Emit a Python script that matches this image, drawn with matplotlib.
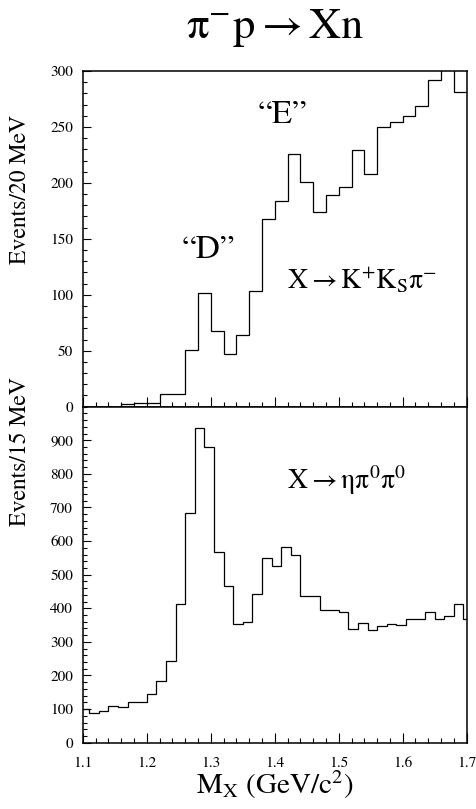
import numpy as np
import matplotlib
matplotlib.use("Agg")
import matplotlib.pyplot as plt
from matplotlib.ticker import MultipleLocator

plt.rcParams['font.family'] = ['STIXGeneral', 'DejaVu Sans']
plt.rcParams['mathtext.fontset'] = 'stix'
plt.rcParams['mathtext.default'] = 'rm'

# X -> K+ Ks pi-, 20 MeV bins starting at 1.10
kkpi_left_edge = 1.10
kkpi_bin_width = 0.020
kkpi_counts = [0, 0, 0, 2, 3, 3, 11, 11, 51, 102,
               68, 47, 64, 103, 168, 184, 226, 201, 174, 189,
               196, 229, 208, 250, 254, 260, 269, 292, 315, 281]

# X -> eta pi0 pi0, 15 MeV bins starting at 1.095
etapipi_left_edge = 1.095
etapipi_bin_width = 0.015
etapipi_counts = [101, 88, 93, 108, 106, 120, 120, 144, 183, 243,
                  413, 683, 937, 879, 567, 467, 352, 358, 443, 550,
                  527, 582, 558, 438, 438, 395, 395, 389, 338, 356,
                  335, 346, 352, 349, 367, 367, 388, 367, 378, 412,
                  367]

x_ticks = [1.1, 1.2, 1.3, 1.4, 1.5, 1.6, 1.7]
x_tick_labels = ["1.1", "1.2", "1.3", "1.4", "1.5", "1.6", "1.7"]

title_text = r'$\pi^{-}p \rightarrow Xn$'
top_ylabel = "Events/20 MeV"
bottom_ylabel = "Events/15 MeV"
xlabel = r'M$_{X}$ (GeV/c$^{2}$)'


def bin_edges(left, width, n):
    return left + width * np.arange(n + 1)


def style_axis(axis, major_y, minor_y):
    axis.xaxis.set_major_locator(MultipleLocator(0.1))
    axis.xaxis.set_minor_locator(MultipleLocator(0.02))
    axis.yaxis.set_major_locator(MultipleLocator(major_y))
    axis.yaxis.set_minor_locator(MultipleLocator(minor_y))
    axis.tick_params(which='both', direction='in', top=False, right=False,
                     labelsize=11, width=0.8, colors='black')
    axis.tick_params(axis='x', which='major', length=7.5)
    axis.tick_params(axis='x', which='minor', length=3.8)
    axis.tick_params(axis='y', which='major', length=5.5, pad=7)
    axis.tick_params(axis='y', which='minor', length=3)
    for sp in axis.spines.values():
        sp.set_linewidth(1.1)


def main():
    fig = plt.figure(figsize=(4.77, 8.09), dpi=100)
    ax_top = fig.add_axes([0.1734, 0.4973, 0.805, 0.4149])
    ax_bot = fig.add_axes([0.1734, 0.0820, 0.805, 0.4153])

    # top panel
    e1 = bin_edges(kkpi_left_edge, kkpi_bin_width, len(kkpi_counts))
    ax_top.stairs(kkpi_counts, e1, baseline=None, color='black', linewidth=0.9)
    ax_top.set_xlim(1.1, 1.7)
    ax_top.set_ylim(0, 300)
    style_axis(ax_top, 50, 10)
    ax_top.tick_params(axis='x', labelbottom=False)
    ax_top.text(1.419, 113, r'$X \rightarrow K^{+}K_{S}\pi^{-}$', fontsize=20, ha='left', va='center')
    ax_top.text(1.296, 140, '\u201cD\u201d', fontsize=24, ha='center', va='center')
    ax_top.text(1.412, 260, '\u201cE\u201d', fontsize=24, ha='center', va='center')

    # bottom panel
    e2 = bin_edges(etapipi_left_edge, etapipi_bin_width, len(etapipi_counts))
    ax_bot.stairs(etapipi_counts, e2, baseline=None, color='black', linewidth=0.9)
    ax_bot.set_xlim(1.1, 1.7)
    ax_bot.set_ylim(0, 1000)
    style_axis(ax_bot, 100, 20)
    ax_bot.set_yticks(np.arange(0, 901, 100))
    ax_bot.set_xticks(x_ticks)
    ax_bot.set_xticklabels(x_tick_labels)
    ax_bot.tick_params(axis='x', which='major', pad=10)
    ax_bot.text(1.419, 780, r'$X \rightarrow \eta\pi^{0}\pi^{0}$', fontsize=20, ha='left', va='center')

    fig.text(0.5765, 0.966, title_text, fontsize=32, ha='center', va='center')
    fig.text(0.042, 1 - 189 / 809, top_ylabel, fontsize=17, rotation=90, ha='center', va='center')
    fig.text(0.042, 1 - 452 / 809, bottom_ylabel, fontsize=17, rotation=90, ha='center', va='center')
    fig.text(0.5765, 1 - 785 / 809, xlabel, fontsize=21, ha='center', va='center')

    fig.savefig("out.png", dpi=100)


if __name__ == "__main__":
    main()
